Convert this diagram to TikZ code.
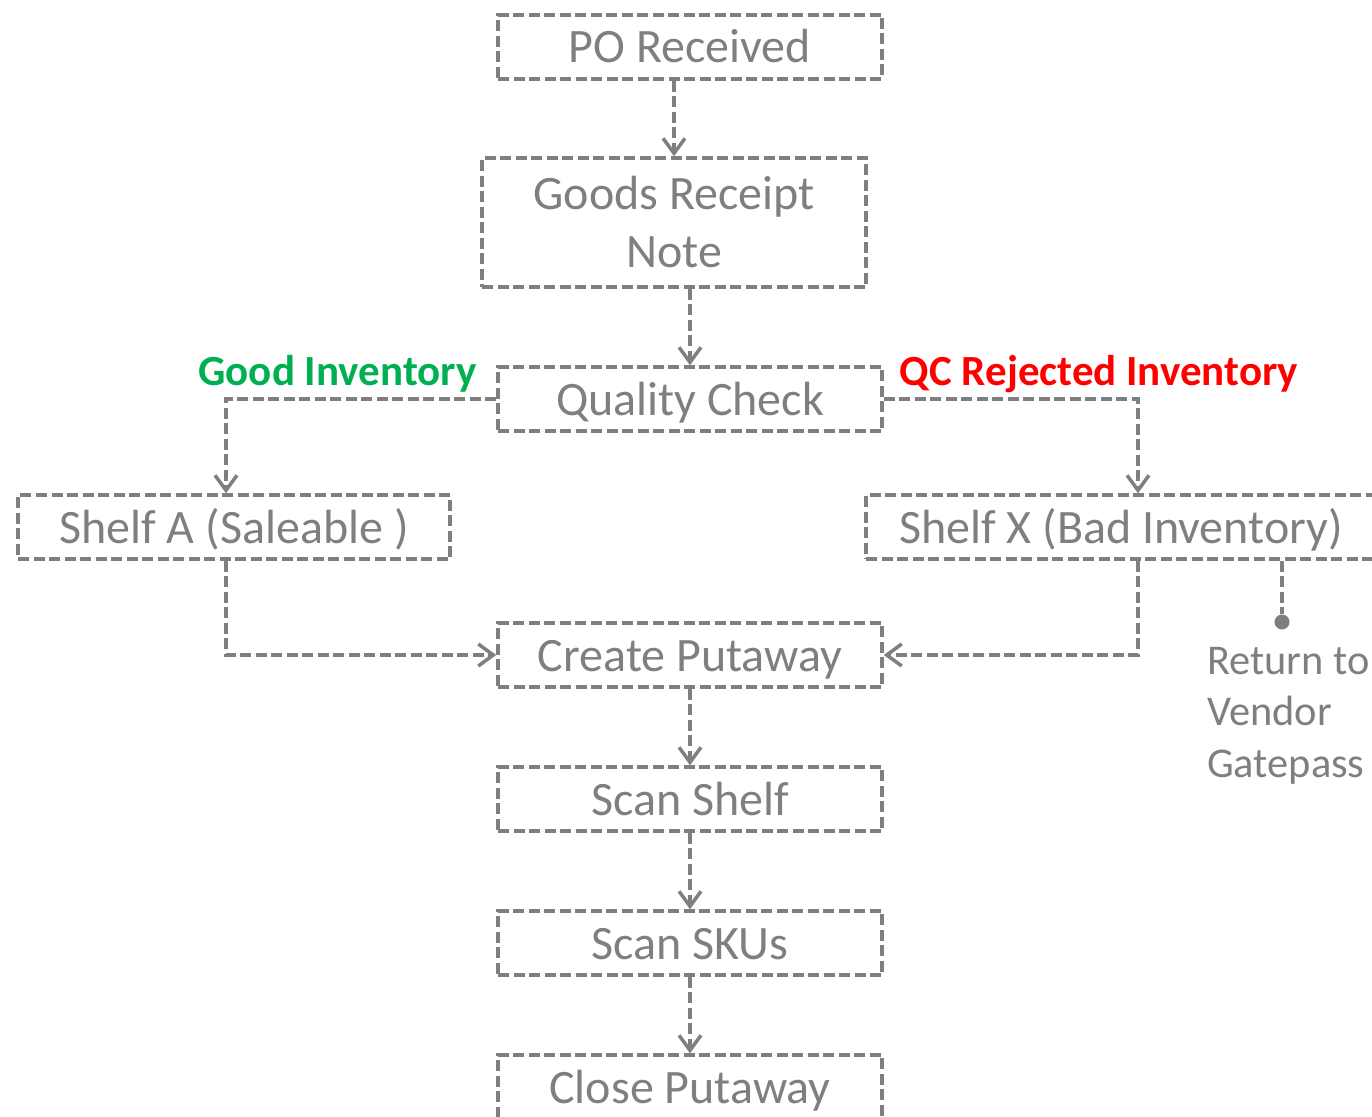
\documentclass[tikz,border=0pt]{standalone}
\usepackage{fontspec}
\setmainfont{Carlito}
\usetikzlibrary{arrows.meta}
\definecolor{flowgray}{HTML}{7F7F7F}
\definecolor{goodgreen}{HTML}{00B050}
\definecolor{badred}{HTML}{FF0000}
\begin{document}
\begin{tikzpicture}[x=1pt,y=-1pt,
  dashline/.style={draw=flowgray, line width=3.5pt, dash pattern=on 11pt off 4.5pt},
  boxbase/.style={dashline, rectangle, minimum width=384pt, minimum height=64pt,
    inner sep=0pt, text=flowgray, font=\fontsize{48}{58}\selectfont},
  stepbox/.style={boxbase, text height=32pt, text depth=0pt},
  flow/.style={dashline, -{Straight Barb[length=15pt,width=22pt,line width=3.5pt]}},
  tag/.style={anchor=base, font=\bfseries\fontsize{43}{50}\selectfont}]
\useasboundingbox (0,0) rectangle (1372,1116);

% main column
\node[stepbox] (po)  at (690,47)  {PO Received};
\node[boxbase, align=center, minimum height=129pt] (grn) at (674,222.5) {Goods Receipt\\Note};
\node[stepbox] (qc)  at (690,399) {Quality Check};
\node[stepbox, minimum width=432pt] (shA) at (234,527) {Shelf A (Saleable )};
\node[stepbox, minimum width=510pt] (shX) at (1121,527) {Shelf X (Bad Inventory)};
\node[stepbox] (cp)  at (690,655) {Create Putaway};
\node[stepbox] (ss)  at (690,799) {Scan Shelf};
\node[stepbox] (sk)  at (690,943) {Scan SKUs};
\node[stepbox] (cl)  at (690,1087) {Close Putaway};

% branch labels
\node[tag, text=goodgreen] (goodlbl) at (337.5,385) {Good Inventory};
\node[tag, text=badred] (badlbl) at (1099,385) {QC Rejected Inventory};

% return to vendor
\node[circle, fill=flowgray, inner sep=0pt, minimum size=15pt] (dot) at (1282,622) {};
\node[anchor=north west, inner sep=0pt, align=left, text=flowgray,
  font=\fontsize{42.4}{51.5}\selectfont] (rtv) at (1207,647)
  {Return to\\Vendor\\Gatepass};

% connectors
\draw[flow] (grn.north |- po.south) -- (grn.north);
\draw[flow] (grn.south -| qc.north) -- (qc.north);
\draw[flow] (qc.west) -| ([xshift=-8pt]shA.north);
\draw[flow] (qc.east) -| ([xshift=17pt]shX.north);
\draw[flow] ([xshift=-8pt]shA.south) |- (cp.west);
\draw[flow] ([xshift=17pt]shX.south) |- (cp.east);
\draw[dashline] (shX.south -| dot) -- (dot);
\draw[flow] (cp) -- (ss);
\draw[flow] (ss) -- (sk);
\draw[flow] (sk) -- (cl);
\end{tikzpicture}
\end{document}
